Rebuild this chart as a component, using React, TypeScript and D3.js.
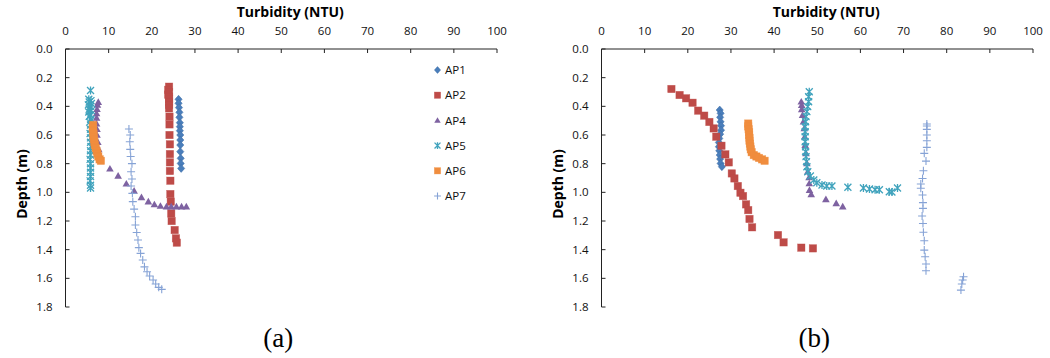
import React from "react";
import * as d3 from "d3";

type Pt = [number, number]; // [turbidity (NTU), depth (m)]

// Axis ticks
const xTicks = [0, 10, 20, 30, 40, 50, 60, 70, 80, 90, 100];
const yTicks = [0, 0.2, 0.4, 0.6, 0.8, 1.0, 1.2, 1.4, 1.6, 1.8];

// Panel (a) profiles
const ap1A: Pt[] = [
  [26.2, 0.351], [26.2, 0.379], [26.3, 0.409], [26.4, 0.442], [26.4, 0.477],
  [26.5, 0.514], [26.5, 0.542], [26.5, 0.57], [26.6, 0.6], [26.6, 0.635],
  [26.6, 0.67], [26.6, 0.716], [26.7, 0.763], [26.7, 0.798], [26.8, 0.833],
];
const ap2A: Pt[] = [
  [24.0, 0.263], [23.8, 0.285], [24.0, 0.3], [23.8, 0.318], [24.0, 0.333],
  [24.0, 0.35], [24.0, 0.368], [24.0, 0.39], [24.0, 0.414], [24.1, 0.472],
  [24.1, 0.526], [24.1, 0.6], [24.2, 0.665], [24.2, 0.733], [24.2, 0.791],
  [24.2, 0.851], [24.3, 0.919], [24.3, 1.012], [24.4, 1.065], [24.5, 1.147],
  [24.6, 1.2], [25.3, 1.263], [25.6, 1.321], [25.8, 1.351],
];
const ap4A: Pt[] = [
  [7.6, 0.37], [7.4, 0.39], [7.3, 0.42], [7.2, 0.45], [7.2, 0.48],
  [7.2, 0.52], [7.3, 0.56], [7.3, 0.6], [7.5, 0.65], [7.7, 0.7],
  [8.0, 0.75], [10.3, 0.835], [12.2, 0.885], [14.1, 0.94], [15.9, 0.99],
  [17.6, 1.035], [19.2, 1.065], [20.6, 1.085], [22.0, 1.095], [23.4, 1.1],
  [24.5, 1.1], [25.7, 1.1], [26.9, 1.1], [28.0, 1.1],
];
const ap5A: Pt[] = [
  [5.8, 0.29], [5.4, 0.35], [5.9, 0.36], [5.5, 0.37], [6.0, 0.38],
  [5.3, 0.39], [5.8, 0.4], [5.5, 0.42], [6.0, 0.43], [5.4, 0.44],
  [5.8, 0.46], [5.5, 0.47], [5.9, 0.49], [5.6, 0.51], [5.8, 0.53],
  [5.8, 0.56], [5.7, 0.59], [5.8, 0.62], [5.8, 0.65], [5.9, 0.68],
  [5.8, 0.71], [5.8, 0.74], [5.7, 0.77], [5.8, 0.8], [5.8, 0.83],
  [5.8, 0.86], [5.8, 0.89], [5.7, 0.92], [5.8, 0.95], [5.8, 0.97],
];
const ap6A: Pt[] = [
  [6.4, 0.53], [6.3, 0.55], [6.4, 0.57], [6.5, 0.59], [6.5, 0.61],
  [6.6, 0.63], [6.7, 0.65], [6.8, 0.67], [7.0, 0.69], [7.2, 0.71],
  [7.4, 0.73], [7.6, 0.75], [7.9, 0.77], [8.2, 0.78],
];
const ap7A: Pt[] = [
  [14.7, 0.558], [15.0, 0.6], [14.9, 0.647], [15.0, 0.7], [15.1, 0.75],
  [15.4, 0.8], [15.2, 0.856], [15.4, 0.907], [15.2, 0.956], [15.5, 1.007],
  [15.6, 1.065], [15.9, 1.117], [16.2, 1.17], [16.2, 1.228], [16.5, 1.28],
  [16.8, 1.333], [17.0, 1.386], [17.4, 1.426], [17.9, 1.472], [18.3, 1.52],
  [18.9, 1.554], [19.5, 1.584], [20.3, 1.612], [20.9, 1.64], [21.6, 1.663],
  [22.3, 1.677],
];

// Panel (b) profiles
const ap1B: Pt[] = [
  [27.4, 0.426], [27.6, 0.449], [27.5, 0.477], [27.6, 0.508], [27.7, 0.535],
  [27.7, 0.566], [27.5, 0.594], [27.3, 0.624], [27.2, 0.652], [27.2, 0.682],
  [27.3, 0.71], [27.4, 0.74], [27.5, 0.768], [27.6, 0.798], [27.9, 0.821],
];
const ap2B: Pt[] = [
  [16.2, 0.279], [18.1, 0.321], [19.6, 0.344], [21.1, 0.375], [22.4, 0.43],
  [23.8, 0.465], [25.0, 0.509], [26.0, 0.554], [26.6, 0.612], [27.8, 0.675],
  [28.7, 0.735], [29.5, 0.791], [30.2, 0.868], [30.8, 0.903], [31.6, 0.956],
  [32.2, 1.003], [32.8, 1.026], [33.5, 1.084], [34.0, 1.124], [34.3, 1.186],
  [34.9, 1.244], [40.9, 1.298], [42.2, 1.349], [46.3, 1.386], [49.0, 1.391],
];
const ap4B: Pt[] = [
  [46.3, 0.368], [46.4, 0.391], [46.4, 0.421], [46.6, 0.461], [46.8, 0.507],
  [47.0, 0.554], [47.1, 0.612], [47.2, 0.67], [47.4, 0.728], [47.6, 0.798],
  [47.8, 0.856], [48.1, 0.896], [48.15, 0.938], [48.2, 0.984], [48.6, 1.014],
  [52.0, 1.049], [54.4, 1.077], [55.9, 1.1],
];
const ap5B: Pt[] = [
  [48.15, 0.298], [48.0, 0.333], [48.0, 0.368], [47.8, 0.402], [47.6, 0.437],
  [47.4, 0.472], [47.3, 0.507], [47.2, 0.542], [47.2, 0.577], [47.2, 0.612],
  [47.2, 0.647], [47.3, 0.682], [47.3, 0.717], [47.4, 0.751], [47.5, 0.786],
  [47.6, 0.821], [47.8, 0.856], [48.4, 0.886], [49.2, 0.914], [49.9, 0.933],
  [51.1, 0.949], [52.2, 0.956], [53.4, 0.956], [57.1, 0.965], [60.7, 0.97],
  [62.1, 0.977], [63.4, 0.982], [64.4, 0.982], [66.7, 0.996], [67.3, 0.998],
  [68.6, 0.97],
];
const ap6B: Pt[] = [
  [34.0, 0.52], [34.0, 0.54], [34.1, 0.56], [34.2, 0.58], [34.2, 0.6],
  [34.3, 0.62], [34.3, 0.64], [34.4, 0.66], [34.5, 0.68], [34.6, 0.7],
  [34.8, 0.72], [35.3, 0.74], [35.9, 0.75], [36.5, 0.76], [37.2, 0.77],
  [37.8, 0.78],
];
const ap7B: Pt[] = [
  [75.4, 0.523], [75.4, 0.537], [75.4, 0.561], [75.4, 0.6], [75.4, 0.64],
  [75.4, 0.686], [74.8, 0.728], [75.2, 0.782], [74.6, 0.849], [74.4, 0.903],
  [74.0, 0.942], [74.0, 0.972], [74.4, 1.019], [74.5, 1.072], [74.5, 1.112],
  [74.3, 1.165], [74.5, 1.217], [74.6, 1.279], [74.8, 1.338], [74.8, 1.403],
  [75.0, 1.449], [75.2, 1.5], [75.2, 1.547], [83.9, 1.589], [83.7, 1.612],
  [83.5, 1.64], [83.3, 1.682],
];

type Shape = "diamond" | "square" | "triangle" | "asterisk" | "plus";
interface Series { name: string; shape: Shape; color: string; data: Pt[] }

const style: Record<string, { shape: Shape; color: string }> = {
  AP1: { shape: "diamond", color: "#4a7ebb" },
  AP2: { shape: "square", color: "#be4b48" },
  AP4: { shape: "triangle", color: "#7e62a1" },
  AP5: { shape: "asterisk", color: "#40a3bd" },
  AP6: { shape: "square", color: "#f08d3e" },
  AP7: { shape: "plus", color: "#86a3d6" },
};

const mk = (name: string, data: Pt[]): Series => ({ name, ...style[name], data });

const seriesA = [mk("AP1", ap1A), mk("AP2", ap2A), mk("AP4", ap4A), mk("AP5", ap5A), mk("AP6", ap6A), mk("AP7", ap7A)];
const seriesB = [mk("AP1", ap1B), mk("AP2", ap2B), mk("AP4", ap4B), mk("AP5", ap5B), mk("AP6", ap6B), mk("AP7", ap7B)];

const FONT = "'Open Sans', 'Liberation Sans', sans-serif";

function Marker({ shape, color, x, y, legend }: { shape: Shape; color: string; x: number; y: number; legend?: boolean }) {
  const k = legend ? 0.85 : 1;
  switch (shape) {
    case "diamond": {
      const r = 4 * k;
      return <path d={`M${x},${y - r}L${x + r * 0.9},${y}L${x},${y + r}L${x - r * 0.9},${y}Z`} fill={color} stroke="#3d6ca5" strokeWidth={0.5} />;
    }
    case "square": {
      const s = 7.4 * k;
      return <rect x={x - s / 2} y={y - s / 2} width={s} height={s} fill={color} stroke={color} strokeOpacity={0.6} strokeWidth={0.6} />;
    }
    case "triangle": {
      const r = 3.8 * k;
      return <path d={`M${x},${y - r}L${x + r},${y + r * 0.75}L${x - r},${y + r * 0.75}Z`} fill={color} />;
    }
    case "asterisk": {
      const r = 3.5 * k;
      return (
        <path
          d={`M${x - r},${y - r}L${x + r},${y + r}M${x - r},${y + r}L${x + r},${y - r}M${x},${y - r * 1.15}L${x},${y + r * 1.15}`}
          stroke={color}
          strokeWidth={1.3}
          fill="none"
        />
      );
    }
    case "plus": {
      const r = 4 * k;
      return <path d={`M${x - r},${y}L${x + r},${y}M${x},${y - r}L${x},${y + r}`} stroke={color} strokeWidth={1.1} fill="none" />;
    }
  }
}

const TOP = 49;
const BOTTOM = 307;

function Panel({ left, right, series, tag, legend }: { left: number; right: number; series: Series[]; tag: string; legend: boolean }) {
  const x = d3.scaleLinear().domain([0, 100]).range([left, right]);
  const y = d3.scaleLinear().domain([0, 1.8]).range([TOP, BOTTOM]);
  const mid = (left + right) / 2;
  return (
    <g>
      {/* title */}
      <text x={mid + 9} y={17} textAnchor="middle" fontFamily={FONT} fontWeight="bold" fontSize={14} fill="#000">
        Turbidity (NTU)
      </text>
      {/* top x axis */}
      <line x1={left} x2={right} y1={TOP} y2={TOP} stroke="#222" strokeWidth={1} />
      {xTicks.map((t) => (
        <g key={"x" + t}>
          <line x1={x(t)} x2={x(t)} y1={TOP} y2={TOP + 4} stroke="#222" strokeWidth={1} />
          <text x={x(t)} y={35} textAnchor="middle" fontFamily={FONT} fontSize={11.5} fill="#111">
            {t}
          </text>
        </g>
      ))}
      {/* left y axis */}
      <line x1={left} x2={left} y1={TOP} y2={BOTTOM} stroke="#222" strokeWidth={1} />
      {yTicks.map((t) => (
        <g key={"y" + t}>
          <line x1={left} x2={left + 4} y1={y(t)} y2={y(t)} stroke="#222" strokeWidth={1} />
          <text x={left - 13} y={y(t)} dy="0.36em" textAnchor="end" fontFamily={FONT} fontSize={11.5} fill="#111">
            {t.toFixed(1)}
          </text>
        </g>
      ))}
      <text
        transform={`translate(${left - 39},${(TOP + BOTTOM) / 2 + 6}) rotate(-90)`}
        textAnchor="middle"
        fontFamily={FONT}
        fontWeight="bold"
        fontSize={14}
        fill="#000"
      >
        Depth (m)
      </text>
      {/* data */}
      {series.map((s) => (
        <g key={s.name}>
          {s.data.map((p, i) => (
            <Marker key={i} shape={s.shape} color={s.color} x={x(p[0])} y={y(p[1])} />
          ))}
        </g>
      ))}
      {legend &&
        series.map((s, i) => {
          const ly = 70 + i * 25.2;
          return (
            <g key={"lg" + s.name}>
              <Marker shape={s.shape} color={s.color} x={437.5} y={ly} legend />
              <text x={445} y={ly} dy="0.36em" fontFamily={FONT} fontSize={11.5} fill="#111">
                {s.name}
              </text>
            </g>
          );
        })}
      <text x={mid - 3} y={347} textAnchor="middle" fontFamily="'Liberation Serif', 'DejaVu Serif', serif" fontSize={27} fill="#000">
        {tag}
      </text>
    </g>
  );
}

export default function App() {
  return (
    <svg
      width={1050}
      height={358}
      viewBox="0 0 1050 358"
      style={{ position: "absolute", left: 0, top: 0, background: "#fff" }}
    >
      <rect width={1050} height={358} fill="#fff" />
      <Panel left={65.5} right={497} series={seriesA} tag="(a)" legend={true} />
      <Panel left={601.5} right={1033} series={seriesB} tag="(b)" legend={false} />
    </svg>
  );
}
